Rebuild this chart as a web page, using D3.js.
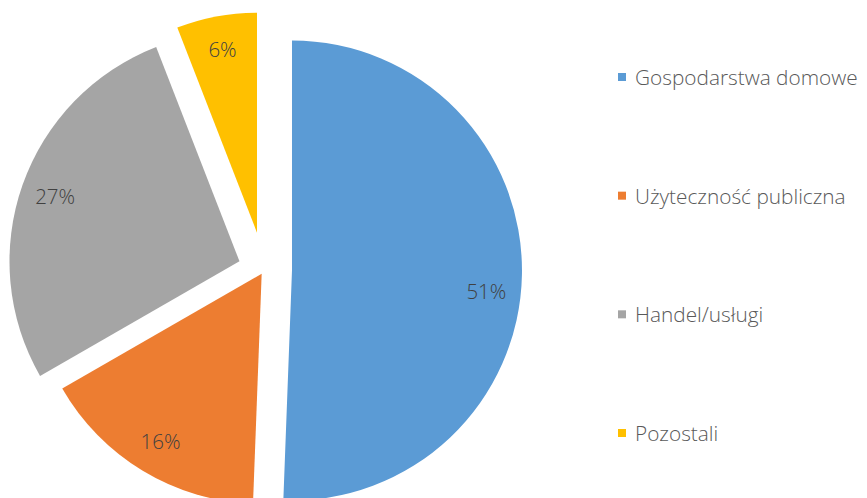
<!DOCTYPE html>
<html><head><meta charset="utf-8">
<script src="https://cdn.jsdelivr.net/npm/d3@7"></script>
<style>html,body{margin:0;padding:0;background:#fff;}svg{display:block;}</style>
</head><body>
<svg id="chart" width="867" height="498"></svg>
<script>
const categories = ["Gospodarstwa domowe", "Użyteczność publiczna", "Handel/usługi", "Pozostali"];
const values = [50.6, 16.1, 27.4, 5.9];
const labels = ["51%", "16%", "27%", "6%"];
const colors = ["#5B9BD5", "#ED7D31", "#A5A5A5", "#FFC000"];

// style: per-slice explosion (px), radius, label angular nudge (deg)
const explode = [28, 4.5, 26, 38];
const radii = [230, 230, 230, 220];
const labelNudge = [5, 0, 0, 0];
const base = {x: 264, y: 270};

const svg = d3.select("#chart");
const pie = d3.pie().sort(null).value(d => d).startAngle(0).endAngle(2*Math.PI);
const arcs = pie(values);

const g = svg.append("g");
arcs.forEach((a, i) => {
  const mid = (a.startAngle + a.endAngle) / 2;
  const cx = base.x + Math.sin(mid) * explode[i];
  const cy = base.y - Math.cos(mid) * explode[i];
  const arc = d3.arc().innerRadius(0).outerRadius(radii[i]);
  g.append("path")
    .attr("transform", `translate(${cx},${cy})`)
    .attr("d", arc(a))
    .attr("fill", colors[i]);
  const la = mid + labelNudge[i] * Math.PI / 180;
  const lr = radii[i] * 0.85;
  g.append("text")
    .attr("x", cx + Math.sin(la) * lr)
    .attr("y", cy - Math.cos(la) * lr)
    .attr("text-anchor", "middle")
    .attr("dominant-baseline", "central")
    .attr("font-family", "'Open Sans', sans-serif")
    .attr("font-weight", 300)
    .attr("font-size", 20.5)
    .attr("fill", "#404040")
    .text(labels[i]);
});

const legendY = d3.scalePoint().domain(categories).range([77, 433]);
const leg = svg.append("g");
categories.forEach((c, i) => {
  const y = legendY(c);
  leg.append("rect").attr("x", 618).attr("y", y - 4).attr("width", 8).attr("height", 8).attr("fill", colors[i]);
  leg.append("text")
    .attr("x", 635).attr("y", y)
    .attr("dominant-baseline", "central")
    .attr("font-family", "'Open Sans', sans-serif")
    .attr("font-weight", 300)
    .attr("font-size", 20.8)
    .attr("fill", "#595959")
    .text(c);
});
</script>
</body></html>
